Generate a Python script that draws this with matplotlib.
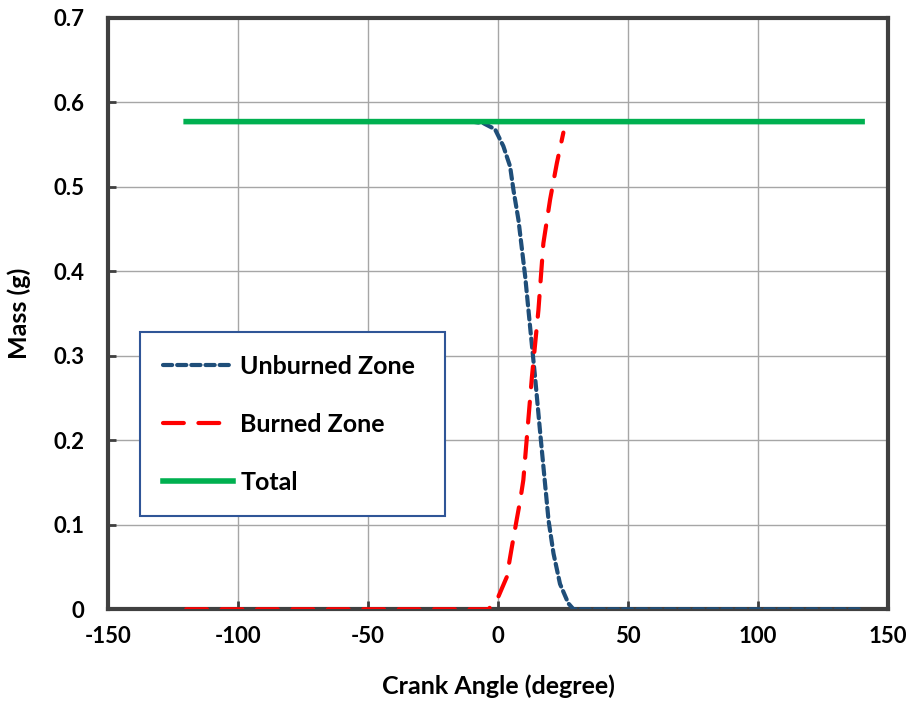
import matplotlib.pyplot as plt

plt.rcParams['font.family'] = ['Lato', 'DejaVu Sans']
plt.rcParams['font.weight'] = 'bold'
plt.rcParams['axes.unicode_minus'] = False

# total mass (g)
total_x = [-120, 140]
total_y = [0.577, 0.577]

# unburned zone mass
unburned_x = [-120, -10, -5.6, -1.2, 2.0, 4.6, 5.9, 7.8, 10.4, 12.3, 14.2, 16.2,
              18.0, 19.4, 21.3, 23.8, 27, 29, 140]
unburned_y = [0.577, 0.577, 0.575, 0.568, 0.548, 0.524, 0.496, 0.461, 0.394, 0.334,
              0.275, 0.208, 0.150, 0.105, 0.066, 0.030, 0.007, 0.0, 0.0]

# burned zone mass
burned_x = [-120, -3.7, 0.1, 3.3, 5.3, 7.2, 8.5, 9.7, 11.5, 13.0, 15.5, 17.4,
            20.0, 22.6, 25.1]
burned_y = [0.0, 0.0, 0.015, 0.038, 0.074, 0.107, 0.129, 0.153, 0.220, 0.275,
            0.354, 0.433, 0.485, 0.528, 0.564]

fig = plt.figure(figsize=(9.09, 7.06), dpi=100)
ax = fig.add_axes([0.119, 0.137, 0.858, 0.838])

ax.plot(unburned_x, unburned_y, color='#1F4E79', lw=3, ls=(0, (2.2, 1.2)),
        dash_capstyle='round', label='Unburned Zone', zorder=3, snap=False)
ax.plot(burned_x, burned_y, color='#FF0000', lw=3, ls=(0, (5, 3.5)),
        dash_capstyle='round', label='Burned Zone', zorder=4)
ax.plot(total_x, total_y, color='#00B050', lw=4, label='Total', zorder=5,
        snap=False)

ax.set_xlim(-150, 150)
ax.set_ylim(0, 0.7)
ax.set_xticks(range(-150, 151, 50))
ax.set_yticks([0, 0.1, 0.2, 0.3, 0.4, 0.5, 0.6, 0.7])
ax.set_yticklabels(['0', '0.1', '0.2', '0.3', '0.4', '0.5', '0.6', '0.7'])
ax.grid(True, color='#A6A6A6', lw=1)
ax.set_axisbelow(True)
for s in ax.spines.values():
    s.set_color('#404040')
    s.set_linewidth(3)
ax.tick_params(direction='in', length=6, width=2, color='#404040', labelsize=16)
ax.tick_params(axis='x', pad=12)
ax.tick_params(axis='y', pad=17)
for lab in ax.get_xticklabels() + ax.get_yticklabels():
    lab.set_fontweight('bold')

ax.set_xlabel('Crank Angle (degree)', fontsize=18, fontweight='bold', labelpad=20)
ax.set_ylabel('Mass (g)', fontsize=18, fontweight='bold', labelpad=16)

leg = ax.legend(loc='lower left', bbox_to_anchor=(0.041, 0.157, 0.391, 0.31),
                mode='expand', borderaxespad=0, fontsize=18, handlelength=2.8,
                handletextpad=0.3, labelspacing=1.4, borderpad=0.9,
                fancybox=False, framealpha=1)
leg.get_frame().set_edgecolor('#2F5597')
leg.get_frame().set_linewidth(1.5)

fig.savefig('out.png', dpi=100)
